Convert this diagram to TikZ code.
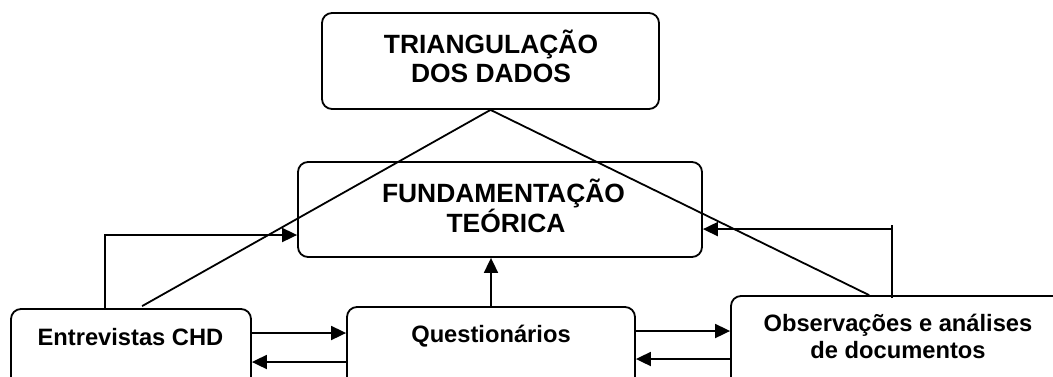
\documentclass[tikz,border=0pt]{standalone}
\usepackage{fontspec}
\setmainfont{Liberation Sans}
\newfontfamily\boldsans{Liberation Sans Bold}
\usetikzlibrary{arrows.meta,calc}
\tikzset{
  box/.style={draw, line width=1.8pt, rounded corners=10pt, inner sep=0pt},
  bigtxt/.style={anchor=base, inner sep=0pt, font=\boldsans\fontsize{26.4}{30}\selectfont},
  smalltxt/.style={anchor=base, inner sep=0pt, font=\boldsans\fontsize{23.7}{27}\selectfont},
  conn/.style={line width=1.8pt},
  arr/.style={line width=1.8pt, -{Triangle[length=15pt,width=14pt]}}
}
\begin{document}
\begin{tikzpicture}[x=1pt,y=-1pt]
\useasboundingbox (0,0) rectangle (1053,376);
\clip (0,0) rectangle (1053,376);
% boxes
\node[box, minimum width=337pt, minimum height=96pt] (tri) at (490.5,61) {};
\node[box, minimum width=404pt, minimum height=95pt] (fund) at (500,209.5) {};
\node[box, minimum width=240pt, minimum height=95pt] (ent) at (131,356.5) {};
\node[box, minimum width=288pt, minimum height=95pt] (que) at (491,354.5) {};
\node[box, minimum width=334pt, minimum height=95pt] (obs) at (898,343.5) {};
% texts
\node[bigtxt] (t1) at (491,53) {TRIANGULAÇÃO};
\node[bigtxt] (t2) at (491,82) {DOS DADOS};
\node[bigtxt] (f1) at (503.5,202) {FUNDAMENTAÇÃO};
\node[bigtxt] (f2) at (506,232) {TEÓRICA};
\node[smalltxt] (e1) at (130.5,345) {Entrevistas CHD};
\node[smalltxt] (q1) at (491,342) {Questionários};
\node[smalltxt] (o1) at (898,331) {Observações e análises};
\node[smalltxt] (o2) at (898,358) {de documentos};
% triangle lines
\coordinate (entT) at ($(ent.north west)+(132,-2)$);
\coordinate (obsT) at ($(obs.north west)+(139,0)$);
\draw[conn] (entT) -- (tri.south) -- (obsT);
% left feedback
\coordinate (entL) at ($(ent.north west)+(95,0)$);
\coordinate (fundL) at ($(fund.west)+(0,25.5)$);
\draw[arr] (entL) |- (fundL);
% right feedback
\coordinate (obsB) at ($(obs.north west)+(162,3)$);
\coordinate (obsTop) at ($(obs.north west)+(162,-70)$);
\coordinate (obsH) at ($(obs.north west)+(162,-66)$);
\draw[conn] (obsB) -- (obsTop);
\draw[arr] (obsH) -- (obsH -| fund.east);
% questionarios up
\draw[arr] (que.north) -- (que.north |- fund.south);
% ent <-> que
\coordinate (eq1) at ($(ent.east)+(0,-23.5)$);
\coordinate (eq2) at ($(que.west)+(0,7.5)$);
\draw[arr] (eq1) -- (eq1 -| que.west);
\draw[arr] (eq2) -- (eq2 -| ent.east);
% que <-> obs
\coordinate (qo1) at ($(que.east)+(0,-23.5)$);
\coordinate (qo2) at ($(obs.west)+(0,15.5)$);
\draw[arr] (qo1) -- (qo1 -| obs.west);
\draw[arr] (qo2) -- (qo2 -| que.east);
\end{tikzpicture}
\end{document}
